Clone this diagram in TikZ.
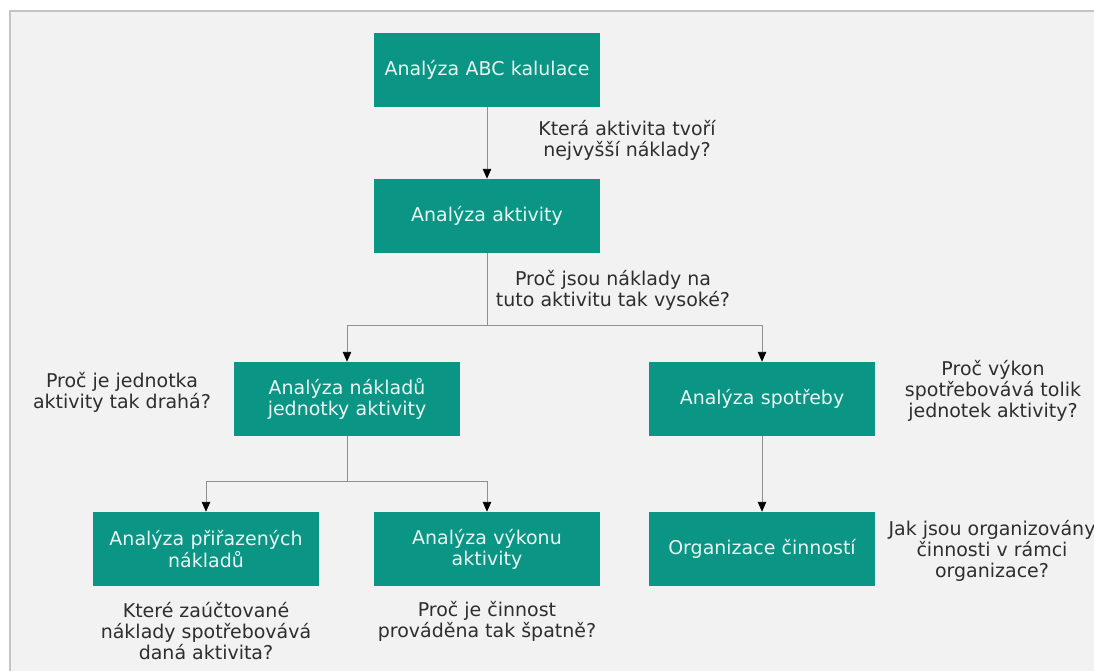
\documentclass[tikz,border=0pt]{standalone}
\usepackage{fontspec}
\setmainfont{DejaVu Sans}
\usepackage{tikz}
\usetikzlibrary{arrows.meta, positioning}

\definecolor{boxteal}{HTML}{0B9585}
\definecolor{boxtext}{HTML}{EAF6F3}
\definecolor{qtext}{HTML}{2E2E2E}
\definecolor{linegrey}{HTML}{8F8F8F}
\definecolor{panelbg}{HTML}{F2F2F2}
\definecolor{panelline}{HTML}{C4C4C4}

\tikzset{
  stepbox/.style={fill=boxteal, text=boxtext, minimum width=5.65cm, minimum height=1.85cm,
                  text width=5.2cm, align=center, inner sep=0pt,
                  font=\fontsize{13.5}{15}\selectfont},
  question/.style={text=qtext, align=center, inner sep=0pt,
                   font=\fontsize{13.5}{15}\selectfont},
  link/.style={draw=linegrey, line width=0.6pt},
}

\begin{document}
\begin{tikzpicture}[x=0.025cm, y=-0.025cm, >={Triangle[width=6pt,length=7pt,color=black]}]

\def \xmid{487}  % middle column
\def \xleft{347} % left branch
\def \xright{762} % right column
\def \xfar{206}  % far left column

\def \yabc{70}
\def \yakt{216}
\def \ysplit{325}
\def \yrow{399}
\def \ysplitb{481}
\def \ylow{549}

% panel
\useasboundingbox (0,0) rectangle (1094,671);
\fill[white] (0,0) rectangle (1094,671);
\fill[panelbg] (10,11) rectangle (1094,671);
\draw[panelline, line width=0.8pt] (10,671) -- (10,11) -- (1094,11);

% boxes from top to bottom
\node[stepbox] (abc) at (\xmid, \yabc)   {Analýza ABC kalulace};
\node[stepbox] (akt) at (\xmid, \yakt)   {Analýza aktivity};
\node[stepbox] (jed) at (\xleft, \yrow)  {Analýza nákladů\\jednotky aktivity};
\node[stepbox] (spo) at (\xright, \yrow) {Analýza spotřeby};
\node[stepbox] (pri) at (\xfar, \ylow)   {Analýza přiřazených\\nákladů};
\node[stepbox] (vyk) at (\xmid, \ylow)   {Analýza výkonu\\aktivity};
\node[stepbox] (org) at (\xright, \ylow) {Organizace činností};

% branch points
\coordinate (splita) at (\xmid, \ysplit);
\coordinate (splitb) at (\xleft, \ysplitb);

% connectors
\draw[link, ->] (abc) -- (akt);
\draw[link] (akt) -- (splita);
\draw[link, ->] (splita) -| (jed);
\draw[link, ->] (splita) -| (spo);
\draw[link] (jed) -- (splitb);
\draw[link, ->] (splitb) -| (pri);
\draw[link, ->] (splitb) -| (vyk);
\draw[link, ->] (spo) -- (org);

% questions
\node[question] (qabc) at (627, 140) {Která aktivita tvoří\\nejvyšší náklady?};
\node[question] (qakt) at (613, 290) {Proč jsou náklady na\\tuto aktivitu tak vysoké?};
\node[question] (qjed) at (122, 392) {Proč je jednotka\\aktivity tak drahá?};
\node[question] (qspo) at (993, 391) {Proč výkon\\spotřebovává tolik\\jednotek aktivity?};
\node[question] (qorg) at (992, 551) {Jak jsou organizovány\\činnosti v rámci\\organizace?};
\node[question] (qpri) at (\xfar, 631) {Které zaúčtované\\náklady spotřebovává\\daná aktivita?};
\node[question] (qvyk) at (\xmid, 621) {Proč je činnost\\prováděna tak špatně?};

\end{tikzpicture}
\end{document}
